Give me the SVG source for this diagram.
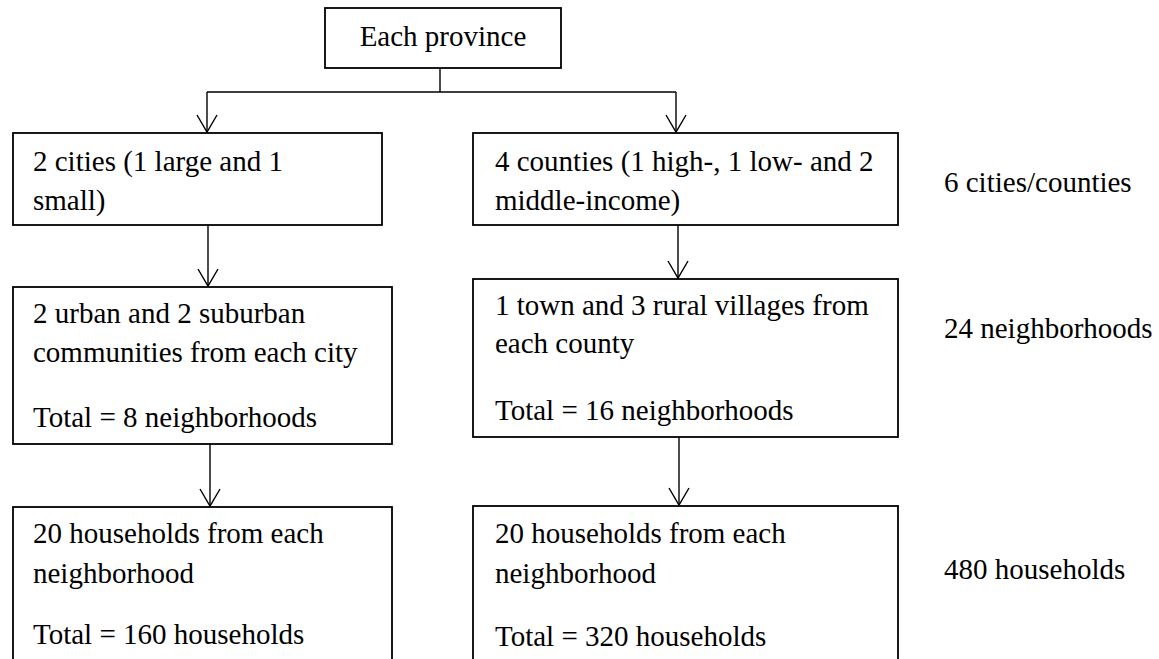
<svg xmlns="http://www.w3.org/2000/svg" width="1159" height="659" viewBox="0 0 1159 659">
<style>
.box{fill:#fff;stroke:#000;stroke-width:1.8}
.t{font-family:"Liberation Serif","Times New Roman",serif;font-size:29px;fill:#000}
.c{fill:none;stroke:#000;stroke-width:1.4}
.ah{fill:none;stroke:#000;stroke-width:1.4}
</style>
<defs>
<marker id="arr" viewBox="-11 -18 22 20" refX="0" refY="0" markerWidth="22" markerHeight="20" markerUnits="userSpaceOnUse" orient="auto-start-reverse">
<path d="M-10,-17 L0,0 L10,-17" class="ah"/>
</marker>
</defs>
<rect width="1159" height="659" fill="#fff"/>
<g id="connectors">
<path class="c" d="M440,68 V92 M207,92 H676"/>
<path class="c" d="M207,92 V132"/>
<path class="c" d="M676,92 V132"/>
<path class="c" d="M208,225 V286"/>
<path class="c" d="M678,225 V278"/>
<path class="c" d="M210,444 V506"/>
<path class="c" d="M679,437 V505"/>
<path class="ah" d="M197,115 L207,132 L217,115"/>
<path class="ah" d="M666,115 L676,132 L686,115"/>
<path class="ah" d="M198,269 L208,286 L218,269"/>
<path class="ah" d="M668,261 L678,278 L688,261"/>
<path class="ah" d="M200,489 L210,506 L220,489"/>
<path class="ah" d="M669,488 L679,505 L689,488"/>
</g>
<g id="province">
<rect class="box" x="325" y="8" width="236" height="60"/>
<text class="t" x="443" y="46" text-anchor="middle">Each province</text>
</g>
<g id="cities">
<rect class="box" x="13" y="133" width="369" height="92"/>
<text class="t" x="33" y="171">2 cities (1 large and 1</text>
<text class="t" x="33" y="210">small)</text>
</g>
<g id="counties">
<rect class="box" x="473" y="133" width="425" height="92"/>
<text class="t" x="495" y="171">4 counties (1 high-, 1 low- and 2</text>
<text class="t" x="495" y="210">middle-income)</text>
</g>
<g id="label-cities">
<text class="t" x="944" y="192">6 cities/counties</text>
</g>
<g id="urban">
<rect class="box" x="13" y="287" width="379" height="157"/>
<text class="t" x="33" y="323">2 urban and 2 suburban</text>
<text class="t" x="33" y="362">communities from each city</text>
<text class="t" x="33" y="427">Total = 8 neighborhoods</text>
</g>
<g id="town">
<rect class="box" x="473" y="279" width="425" height="158"/>
<text class="t" x="495" y="315">1 town and 3 rural villages from</text>
<text class="t" x="495" y="353">each county</text>
<text class="t" x="495" y="420">Total = 16 neighborhoods</text>
</g>
<g id="label-neighborhoods">
<text class="t" x="944" y="338">24 neighborhoods</text>
</g>
<g id="households-left">
<rect class="box" x="13" y="507" width="379" height="170"/>
<text class="t" x="33" y="543">20 households from each</text>
<text class="t" x="33" y="583">neighborhood</text>
<text class="t" x="33" y="644">Total = 160 households</text>
</g>
<g id="households-right">
<rect class="box" x="473" y="506" width="425" height="171"/>
<text class="t" x="495" y="543">20 households from each</text>
<text class="t" x="495" y="583">neighborhood</text>
<text class="t" x="495" y="646">Total = 320 households</text>
</g>
<g id="label-households">
<text class="t" x="944" y="579">480 households</text>
</g>
</svg>
